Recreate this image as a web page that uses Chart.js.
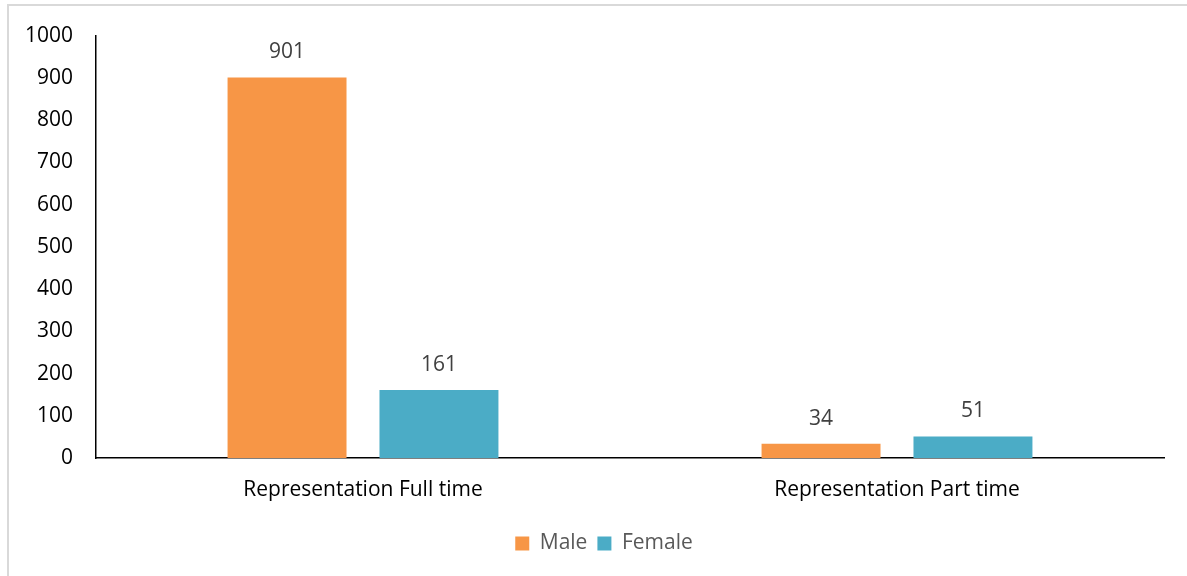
<!DOCTYPE html>
<html>
<head>
<meta charset="utf-8">
<script src="https://cdn.jsdelivr.net/npm/chart.js@4.4.0/dist/chart.umd.min.js"></script>
<style>
  html, body { margin: 0; padding: 0; background: #fff; overflow: hidden; }
  .frame { position: absolute; left: 7px; top: 4px; width: 1400px; height: 800px; border: 2px solid #d9d9d9; }
  .wrap { position: absolute; left: 0; top: 0; width: 1187px; height: 576px; }
</style>
</head>
<body>
<div class="frame"></div>
<div class="wrap"><canvas id="myChart"></canvas></div>
<script>
// data
const categories = ["Representation Full time", "Representation Part time"];
const maleValues = [901, 34];
const femaleValues = [161, 51];
const yMax = 1000;
const yStep = 100;

const FONT = "'Open Sans'";
const SIZE = 21;

// value labels above each bar
const barLabels = {
    id: "barLabels",
    afterDatasetsDraw(chart) {
        const ctx = chart.ctx;
        ctx.save();
        ctx.font = SIZE + "px " + FONT;
        ctx.fillStyle = "#404040";
        ctx.textAlign = "center";
        ctx.textBaseline = "middle";
        chart.data.datasets.forEach((ds, i) => {
            chart.getDatasetMeta(i).data.forEach((bar, j) => {
                ctx.fillText(ds.data[j], bar.x, bar.y - 25);
            });
        });
        ctx.restore();
    }
};

// legend sits a bit right of the canvas centre in the original
const legendShift = {
    id: "legendShift",
    afterLayout(chart) {
        chart.legend.left += 22;
        chart.legend.right += 22;
    }
};

var ctx = document.getElementById("myChart").getContext("2d");

var myChart = new Chart(ctx, {
    type: "bar",
    data: {
        labels: categories,
        datasets: [
            { label: "Male", data: maleValues, backgroundColor: "#F79646" },
            { label: "Female", data: femaleValues, backgroundColor: "#4BACC6" },
        ],
    },
    options: {
        responsive: true,
        maintainAspectRatio: false,
        animation: false,
        datasets: {
            bar: { categoryPercentage: 0.569, barPercentage: 0.783 }
        },
        layout: { padding: { left: 0, right: 23, top: 33, bottom: 12 } },
        scales: {
            x: {
                grid: { display: false, drawTicks: false },
                border: { display: true, color: "#000", width: 1.5 },
                ticks: { color: "#000", font: { family: FONT, size: SIZE }, padding: 19, maxRotation: 0 },
                afterFit: (scale) => { scale.height = 65; }
            },
            y: {
                min: 0,
                max: yMax,
                grid: { display: false, drawTicks: false },
                border: { display: true, color: "#000", width: 1.5 },
                ticks: {
                    stepSize: yStep,
                    color: "#000",
                    font: { family: FONT, size: SIZE },
                    padding: 23,
                    callback: (v) => String(v)
                },
                afterFit: (scale) => { scale.width = 96; }
            }
        },
        plugins: {
            tooltip: { enabled: false },
            legend: {
                position: "bottom",
                labels: {
                    color: "#595959",
                    font: { family: FONT, size: SIZE },
                    boxWidth: 14,
                    boxHeight: 14,
                    padding: 10
                }
            }
        }
    },
    plugins: [barLabels, legendShift]
});
</script>
</body>
</html>
